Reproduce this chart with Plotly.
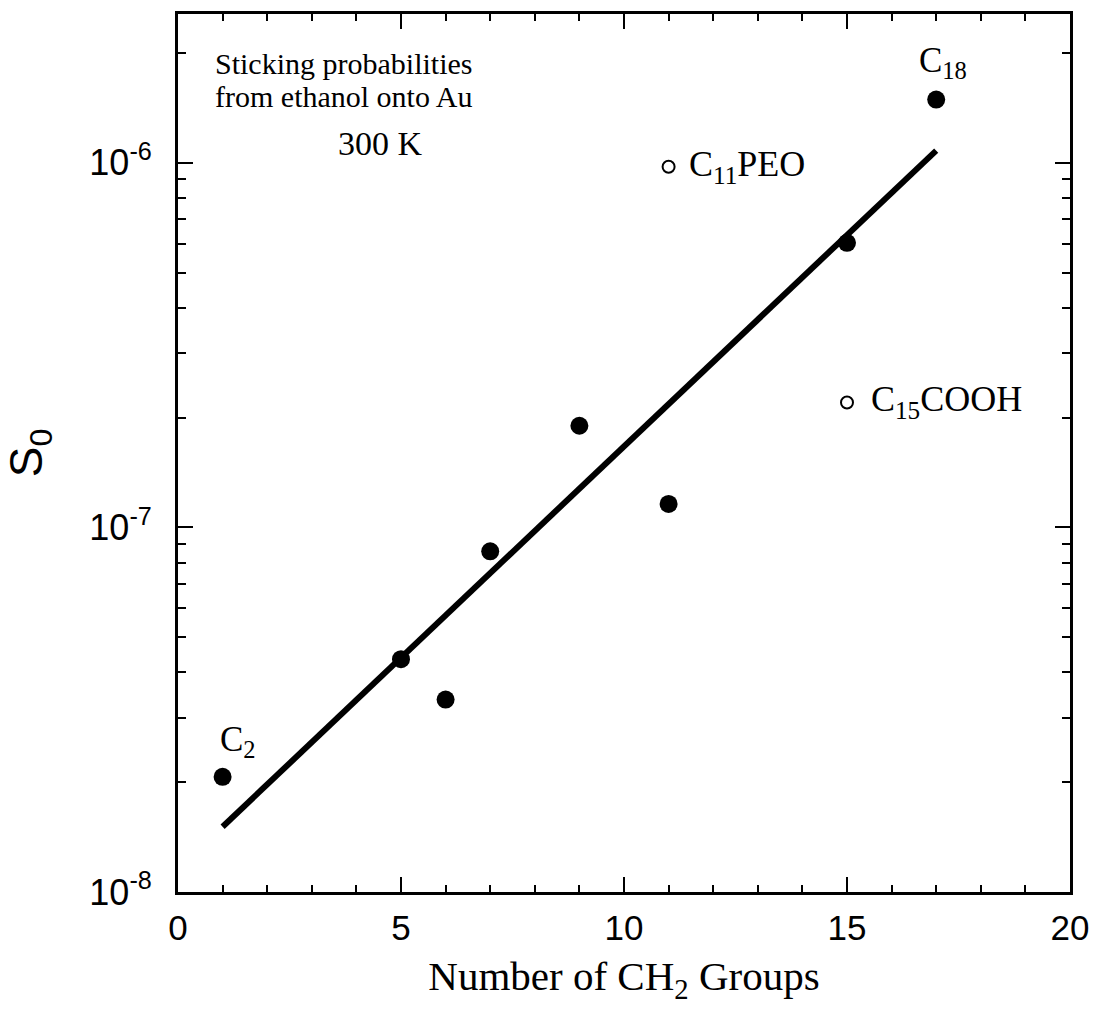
import numpy as np
import plotly.graph_objects as go

# Alkanethiols: number of CH2 groups and initial sticking probability S0
n_alkyl = [1, 5, 6, 7, 9, 11, 15, 17]
s0_alkyl = [2.07e-8, 4.35e-8, 3.37e-8, 8.6e-8, 1.9e-7, 1.16e-7, 6.03e-7, 1.49e-6]

# Functionalised thiols (open symbols)
n_func = [11, 15]
s0_func = [9.75e-7, 2.2e-7]
func_labels = ["C<sub>11</sub>PEO", "C<sub>15</sub>COOH"]

# Labelled alkanethiols
alkyl_label_n = [1, 17]
alkyl_label_s0 = [2.07e-8, 1.49e-6]
alkyl_labels = ["C<sub>2</sub>", "C<sub>18</sub>"]

# Exponential fit through the alkanethiol series (end points)
fit_n = [1, 17]
fit_s0 = [1.51e-8, 1.08e-6]

# Axis ticks
x_range = [0, 20]
y_range_log = [-8, -5.592]
y_tickvals = [1e-8, 1e-7, 1e-6]
y_ticktext = ["10<sup>-8</sup>", "10<sup>-7</sup>", "10<sup>-6</sup>"]
y_minor = [k * 10.0 ** e for e in (-8, -7, -6) for k in range(2, 10)
           if np.log10(k * 10.0 ** e) < y_range_log[1]]

SERIF = "Liberation Serif"
SANS = "Liberation Sans"

fig = go.Figure()

fig.add_trace(go.Scatter(
    x=fit_n, y=fit_s0, mode="lines",
    line=dict(color="black", width=6),
    hoverinfo="skip", showlegend=False,
))
fig.add_trace(go.Scatter(
    x=n_alkyl, y=s0_alkyl, mode="markers",
    marker=dict(color="black", size=18, line=dict(width=0)),
    showlegend=False,
))
fig.add_trace(go.Scatter(
    x=n_func, y=s0_func, mode="markers",
    marker=dict(color="white", size=12, line=dict(color="black", width=2)),
    showlegend=False,
))

annotations = []
# labels next to the alkanethiol end members
for n, s, txt, dx, dy in zip(alkyl_label_n, alkyl_label_s0, alkyl_labels,
                             [-5, -19], [12, 14]):
    annotations.append(dict(
        x=n, y=np.log10(s), xref="x", yref="y", text=txt, showarrow=False,
        xanchor="left", yanchor="bottom", xshift=dx, yshift=dy,
        font=dict(family=SERIF, size=35, color="black"),
    ))
# labels beside the functionalised thiols
for n, s, txt, dx, dy in zip(n_func, s0_func, func_labels, [18, 22], [0, 1]):
    annotations.append(dict(
        x=n, y=np.log10(s), xref="x", yref="y", text=txt, showarrow=False,
        xanchor="left", yanchor="middle", xshift=dx, yshift=dy,
        font=dict(family=SERIF, size=36, color="black"),
    ))
# condition text block
for txt, xp, yp, fs in [("Sticking probabilities", 0.186, 0.944, 30),
                        ("from ethanol onto Au", 0.185, 0.906, 30),
                        ("300 K", 0.227, 0.852, 34)]:
    annotations.append(dict(
        x=xp, y=yp, xref="paper", yref="paper", text=txt, showarrow=False,
        xanchor="center", yanchor="middle",
        font=dict(family=SERIF, size=fs, color="black"),
    ))

axis_common = dict(
    showline=True, linecolor="black", linewidth=3, mirror="ticks",
    ticks="inside", tickcolor="black", tickwidth=2, ticklen=15,
    showgrid=False, zeroline=False,
)

fig.update_layout(
    width=1101, height=1019,
    margin=dict(l=178, r=31, t=14, b=127),
    paper_bgcolor="white", plot_bgcolor="white",
    annotations=annotations,
    xaxis=dict(
        range=x_range, dtick=5, tick0=0,
        minor=dict(dtick=1, ticks="inside", ticklen=7, tickwidth=2, tickcolor="black"),
        tickfont=dict(family=SANS, size=35, color="black"),
        ticklabelstandoff=3,
        title=dict(text="Number of CH<sub>2</sub> Groups",
                   font=dict(family=SERIF, size=41, color="black"), standoff=16),
        **axis_common,
    ),
    yaxis=dict(
        type="log", range=y_range_log,
        tickvals=y_tickvals, ticktext=y_ticktext,
        minor=dict(tickvals=y_minor, ticks="inside", ticklen=8, tickwidth=2, tickcolor="black"),
        tickfont=dict(family=SANS, size=36, color="black"),
        ticklabelstandoff=16,
        title=dict(text="S<sub>0</sub>",
                   font=dict(family=SANS, size=46, color="black"), standoff=36),
        **axis_common,
    ),
)

fig.write_html("out.html")
